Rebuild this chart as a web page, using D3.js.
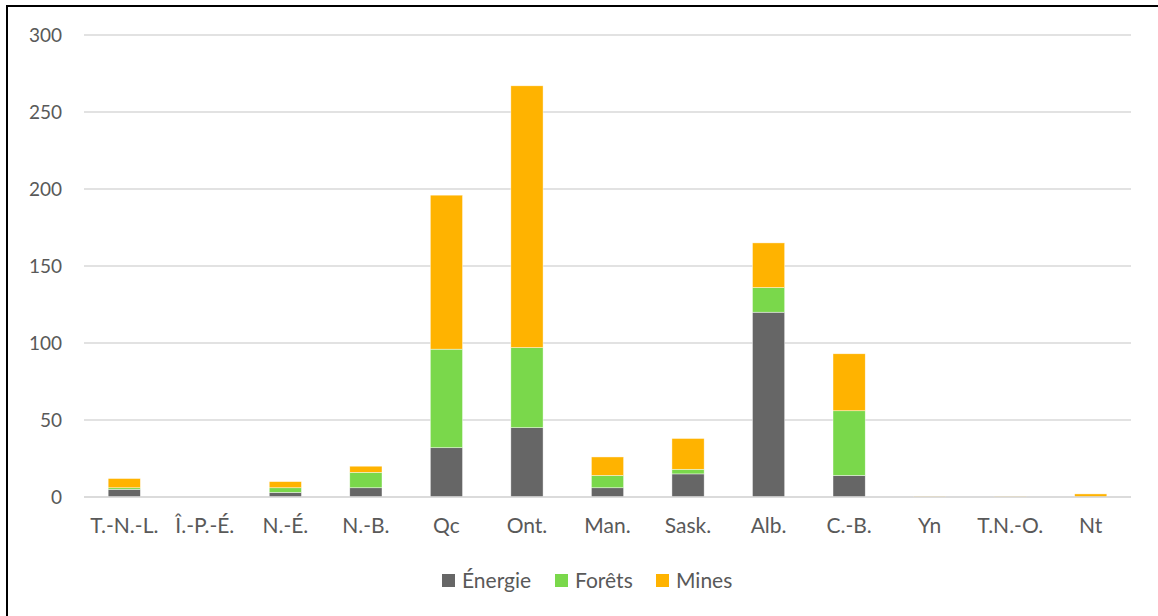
<!DOCTYPE html>
<html>
<head>
<meta charset="utf-8">
<script src="https://cdn.jsdelivr.net/npm/d3@7"></script>
<style>
  html, body { margin: 0; padding: 0; background: #fff; }
  svg { display: block; }
  text { font-family: Lato, "Open Sans", sans-serif; fill: #595959; }
</style>
</head>
<body>
<svg id="chart" width="1158" height="616"></svg>
<script>
// Provinces and territories
const categories = ["T.-N.-L.", "Î.-P.-É.", "N.-É.", "N.-B.", "Qc", "Ont.", "Man.", "Sask.", "Alb.", "C.-B.", "Yn", "T.N.-O.", "Nt"];
// Values per sector
const energie = [5, 0, 3, 6, 32, 45, 6, 15, 120, 14, 0, 0, 0];
const forets  = [1, 0, 3, 10, 64, 52, 8, 3, 16, 42, 0, 0, 0];
const mines   = [6, 0, 4, 4, 100, 170, 12, 20, 29, 37, 0.5, 0.5, 2];
const seriesNames = ["Énergie", "Forêts", "Mines"];
const yTicks = [0, 50, 100, 150, 200, 250, 300];

const colors = { "Énergie": "#666666", "Forêts": "#7AD84B", "Mines": "#FFB300" };

const svg = d3.select("#chart");
const W = 1158, H = 616;
const margin = { left: 84, right: 27, top: 35, bottom: 119 };

// frame lines (left and top)
svg.append("line").attr("x1", 7).attr("x2", 7).attr("y1", 5).attr("y2", H).attr("stroke", "#000").attr("stroke-width", 2);
svg.append("line").attr("x1", 6).attr("x2", W).attr("y1", 6).attr("y2", 6).attr("stroke", "#000").attr("stroke-width", 2);

const x = d3.scaleBand().domain(categories).range([margin.left, W - margin.right]).paddingInner(0.6).paddingOuter(0.3);
const y = d3.scaleLinear().domain([0, 300]).range([H - margin.bottom, margin.top]);

// gridlines
svg.append("g").selectAll("line").data(yTicks).join("line")
  .attr("x1", margin.left).attr("x2", W - margin.right)
  .attr("y1", d => y(d)).attr("y2", d => y(d))
  .attr("stroke", "#D9D9D9").attr("stroke-width", 1.3);

// y axis labels
const yAxis = d3.axisLeft(y).tickValues(yTicks).tickSize(0).tickPadding(22);
const gy = svg.append("g").attr("transform", `translate(${margin.left},0)`).call(yAxis);
gy.select(".domain").remove();
gy.selectAll("text").style("font-size", "19px").attr("fill", "#595959").attr("dy", "0.35em");

// stacked data
const rows = categories.map((c, i) => ({ cat: c, "Énergie": energie[i], "Forêts": forets[i], "Mines": mines[i] }));
const stack = d3.stack().keys(seriesNames)(rows);

svg.append("g").selectAll("g").data(stack).join("g")
  .attr("fill", d => colors[d.key])
  .selectAll("rect").data(d => d).join("rect")
  .attr("x", d => x(d.data.cat))
  .attr("width", x.bandwidth())
  .attr("y", d => y(d[1]))
  .attr("height", d => Math.max(0, y(d[0]) - y(d[1])))
  .attr("stroke", "#fff").attr("stroke-width", 0.6).attr("stroke-opacity", 0.7);

// baseline
svg.append("line").attr("x1", margin.left).attr("x2", W - margin.right)
  .attr("y1", y(0)).attr("y2", y(0)).attr("stroke", "#D9D9D9").attr("stroke-width", 1.3);

// x axis labels
const xAxis = d3.axisBottom(x).tickSize(0).tickPadding(21);
const gx = svg.append("g").attr("transform", `translate(0,${y(0)})`).call(xAxis);
gx.select(".domain").remove();
gx.selectAll("text").style("font-size", "21px").attr("fill", "#595959");

// legend
const legendItems = [
  { name: "Énergie", x: 442 },
  { name: "Forêts", x: 555 },
  { name: "Mines", x: 656 }
];
const lg = svg.append("g").selectAll("g").data(legendItems).join("g")
  .attr("transform", d => `translate(${d.x},574)`);
lg.append("rect").attr("width", 13).attr("height", 13).attr("fill", d => colors[d.name]);
lg.append("text").attr("x", 20).attr("y", 6.5).attr("dy", "0.35em")
  .style("font-size", "21px").text(d => d.name);
</script>
</body>
</html>
